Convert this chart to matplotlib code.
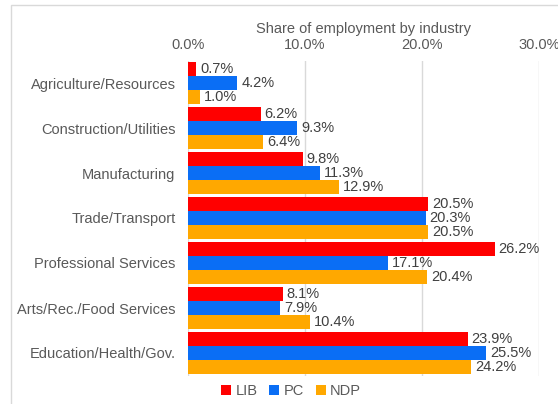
import numpy as np
import matplotlib
matplotlib.use("Agg")
import matplotlib.pyplot as plt
from matplotlib.patches import Rectangle

plt.rcParams['font.family'] = ['Liberation Sans', 'DejaVu Sans']

categories = ['Agriculture/Resources', 'Construction/Utilities', 'Manufacturing',
              'Trade/Transport', 'Professional Services', 'Arts/Rec./Food Services',
              'Education/Health/Gov.']
lib = [0.7, 6.2, 9.8, 20.5, 26.2, 8.1, 23.9]
pc = [4.2, 9.3, 11.3, 20.3, 17.1, 7.9, 25.5]
ndp = [1.0, 6.4, 12.9, 20.5, 20.4, 10.4, 24.2]
series = [('LIB', lib, '#FF0000'), ('PC', pc, '#0A6EF5'), ('NDP', ndp, '#FFA800')]

text_col = '#595959'
label_col = '#404040'
fs = 10.5

fig = plt.figure(figsize=(5.58, 4.04), dpi=100)
ax = fig.add_axes([188/558, 1 - 375.5/404, (539 - 188)/558, 315/404])

# light frame around the chart area
fig.patches.append(Rectangle((11/558, -0.1), 1.2, 1 - 5/404 + 0.1, transform=fig.transFigure,
                             fill=False, edgecolor='#D9D9D9', lw=1.0))

y = np.arange(len(categories))
h = 0.31
for i, (name, vals, col) in enumerate(series):
    pos = y + (i - 1) * h
    ax.barh(pos, [v / 100 for v in vals], height=h, color=col, label=name, zorder=3)
    for p, v in zip(pos, vals):
        ax.text(v / 100 + 0.0035, p, f'{v:.1f}%', va='center', ha='left',
                fontsize=fs, color=label_col, zorder=4)

ax.set_xlim(0, 0.30)
ax.set_ylim(len(categories) - 0.5, -0.5)
ax.set_xticks([0, 0.1, 0.2, 0.3])
ax.set_xticklabels(['0.0%', '10.0%', '20.0%', '30.0%'])
ax.xaxis.tick_top()
ax.xaxis.set_label_position('top')
ax.set_xlabel('Share of employment by industry', fontsize=fs, color=text_col, labelpad=4)
ax.set_yticks(y)
ax.set_yticklabels(categories)
ax.tick_params(axis='both', length=0, labelsize=fs, labelcolor=text_col)
ax.tick_params(axis='x', pad=6)
ax.tick_params(axis='y', pad=9)
ax.grid(axis='x', color='#D9D9D9', lw=1, zorder=0)
for s in ax.spines.values():
    s.set_visible(False)

fig.legend(loc='center', bbox_to_anchor=(291/558, 1 - 391/404), ncol=3, frameon=False,
           fontsize=fs, labelcolor=text_col, handlelength=0.7, handleheight=0.7,
           handletextpad=0.3, columnspacing=0.8)

fig.savefig('out.png', dpi=100)
